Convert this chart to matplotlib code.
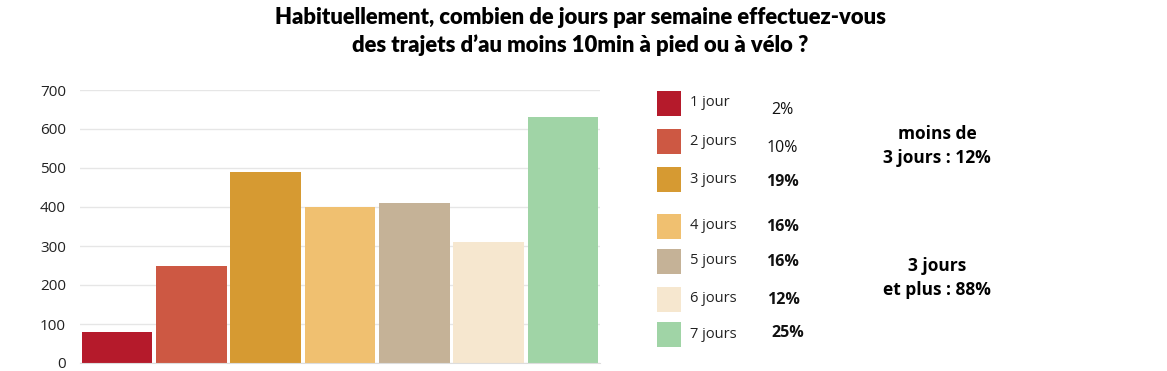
import matplotlib.pyplot as plt
from matplotlib.patches import Rectangle

categories = ["1 jour", "2 jours", "3 jours", "4 jours", "5 jours", "6 jours", "7 jours"]
counts = [80, 250, 490, 400, 410, 310, 630]
percents = ["2%", "10%", "19%", "16%", "16%", "12%", "25%"]
bold_pct = [False, False, True, True, True, True, True]
colors = ["#b51a2b", "#cd5843", "#d69a32", "#f0c070", "#c5b297", "#f6e7cf", "#a0d4a6"]
yticks = [0, 100, 200, 300, 400, 500, 600, 700]

W, H = 1167, 371
fig = plt.figure(figsize=(W / 100, H / 100), dpi=100)
ax = fig.add_axes([80 / W, 1 - 363 / H, 520 / W, 273 / H])

x = range(len(categories))
ax.bar(x, counts, width=0.95, color=colors, zorder=2)
ax.set_xlim(-0.5, 6.5)
ax.set_ylim(0, 700)
ax.set_yticks(yticks)
ax.set_xticks([])
ax.grid(axis="y", color="#e6e6e6", linewidth=1, zorder=0)
for s in ["top", "right", "left"]:
    ax.spines[s].set_visible(False)
ax.spines["bottom"].set_color("#dddddd")
ax.tick_params(axis="y", length=0, labelsize=11, labelcolor="#222222", pad=10)
for lab in ax.get_yticklabels():
    lab.set_family("Open Sans")

title_kw = dict(ha="center", va="center", fontsize=15.8, fontweight="heavy", family="Lato")
fig.text(0.497, 1 - 18 / H, "Habituellement, combien de jours par semaine effectuez-vous", **title_kw)
fig.text(0.497, 1 - 45 / H, "des trajets d\u2019au moins 10min à pied ou à vélo ?", **title_kw)

# legend
row_y = [104, 142, 180, 227, 262, 300, 335]
pct_x = [782, 782, 782, 782, 782, 783, 788]
pct_dy = [6, 6, 2, 0, 0, 0, -2]
for i, cat in enumerate(categories):
    yc = row_y[i]
    fig.patches.append(Rectangle((657 / W, 1 - (yc + 12) / H), 24 / W, 25 / H,
                                 transform=fig.transFigure, facecolor=colors[i],
                                 edgecolor="none"))
    fig.text(690 / W, 1 - (yc - 1) / H, cat, ha="left", va="center",
             fontsize=10.5, family="Open Sans", color="#222222")
    fig.text(pct_x[i] / W, 1 - (yc + pct_dy[i]) / H, percents[i], ha="center", va="center",
             fontsize=11.5, family="Open Sans", color="#111111",
             fontweight="bold" if bold_pct[i] else "normal")

fig.text(937 / W, 1 - 146 / H, "moins de\n3 jours : 12%", ha="center", va="center",
         fontsize=12.5, fontweight="bold", family="Open Sans", linespacing=1.45)
fig.text(937 / W, 1 - 278 / H, "3 jours\net plus : 88%", ha="center", va="center",
         fontsize=12.5, fontweight="bold", family="Open Sans", linespacing=1.45)

fig.savefig("out.png", dpi=100)
